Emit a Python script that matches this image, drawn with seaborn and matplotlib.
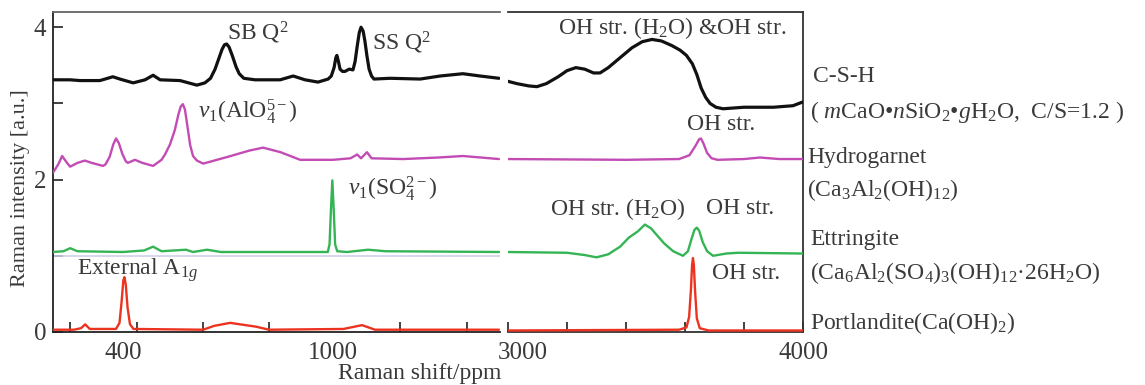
import matplotlib
matplotlib.use("Agg")
import matplotlib.pyplot as plt
import matplotlib.transforms as mtransforms
import seaborn as sns

# ---------------- data ----------------
# Left panel (low wavenumber region)
csh_low_x = [200, 249, 277, 334, 371, 391, 429, 463, 486, 506, 563, 611, 634, 650, 663, 673, 683, 690, 696, 703,
             712, 723, 732, 745, 777, 849, 886, 920, 957, 986, 995, 1003, 1008, 1011, 1015, 1020, 1027, 1034, 1046,
             1057, 1063, 1069, 1075, 1080, 1086, 1091, 1097, 1103, 1110, 1117, 1163, 1249, 1306, 1371, 1420, 1474]
csh_low_y = [3.31, 3.31, 3.30, 3.30, 3.35, 3.32, 3.27, 3.31, 3.37, 3.31, 3.30, 3.24, 3.27, 3.33, 3.45, 3.58, 3.71,
             3.77, 3.78, 3.74, 3.63, 3.48, 3.39, 3.33, 3.31, 3.31, 3.36, 3.31, 3.28, 3.32, 3.36, 3.47, 3.60, 3.63,
             3.56, 3.45, 3.42, 3.42, 3.45, 3.44, 3.55, 3.75, 3.93, 4.00, 3.95, 3.82, 3.62, 3.45, 3.36, 3.32, 3.33,
             3.32, 3.36, 3.39, 3.36, 3.33]

hg_low_x = [200, 215, 226, 240, 249, 270, 291, 310, 343, 350, 362, 372, 380, 388, 398, 408, 414, 434, 455, 486,
            510, 520, 534, 548, 558, 565, 571, 577, 584, 592, 600, 611, 629, 700, 760, 800, 850, 906, 1000, 1050,
            1069, 1080, 1097, 1110, 1200, 1300, 1371, 1474]
hg_low_y = [2.09, 2.20, 2.31, 2.22, 2.17, 2.22, 2.25, 2.22, 2.18, 2.20, 2.30, 2.46, 2.54, 2.48, 2.34, 2.24, 2.22,
            2.26, 2.22, 2.18, 2.26, 2.33, 2.46, 2.65, 2.85, 2.96, 2.99, 2.92, 2.70, 2.45, 2.31, 2.25, 2.21, 2.30,
            2.38, 2.42, 2.36, 2.26, 2.26, 2.28, 2.33, 2.28, 2.36, 2.28, 2.27, 2.29, 2.31, 2.27]

ett_low_x = [200, 230, 249, 270, 400, 460, 486, 510, 580, 600, 640, 680, 985, 990, 994, 998, 1002, 1006, 1012,
             1040, 1100, 1150, 1474]
ett_low_y = [1.05, 1.06, 1.10, 1.06, 1.05, 1.07, 1.12, 1.06, 1.08, 1.05, 1.08, 1.05, 1.05, 1.15, 1.60, 1.99, 1.60,
             1.15, 1.06, 1.05, 1.08, 1.06, 1.05]

port_low_x = [200, 260, 280, 292, 305, 380, 390, 396, 401, 404, 408, 413, 420, 430, 629, 660, 706, 780, 817,
              1030, 1083, 1120, 1474]
port_low_y = [0.03, 0.03, 0.05, 0.10, 0.04, 0.04, 0.12, 0.40, 0.68, 0.72, 0.62, 0.32, 0.10, 0.04, 0.03, 0.08,
              0.12, 0.07, 0.03, 0.04, 0.09, 0.03, 0.03]

# Right panel (OH stretching region)
csh_high_x = [3000, 3030, 3070, 3098, 3130, 3170, 3200, 3230, 3260, 3290, 3312, 3340, 3380, 3420, 3455, 3488,
              3520, 3555, 3583, 3605, 3625, 3640, 3655, 3670, 3685, 3705, 3729, 3800, 3900, 3966, 4000]
csh_high_y = [3.29, 3.26, 3.23, 3.22, 3.26, 3.35, 3.43, 3.47, 3.45, 3.40, 3.40, 3.47, 3.60, 3.73, 3.81, 3.84,
              3.82, 3.76, 3.70, 3.63, 3.52, 3.38, 3.20, 3.08, 3.00, 2.95, 2.93, 2.95, 2.95, 2.97, 3.02]

hg_high_x = [3000, 3400, 3580, 3615, 3635, 3648, 3654, 3662, 3675, 3690, 3710, 3800, 3854, 3920, 4000]
hg_high_y = [2.27, 2.26, 2.27, 2.32, 2.44, 2.53, 2.54, 2.48, 2.35, 2.28, 2.26, 2.27, 2.29, 2.27, 2.27]

ett_high_x = [3000, 3200, 3260, 3300, 3340, 3380, 3410, 3440, 3464, 3485, 3505, 3530, 3560, 3593, 3610, 3622,
              3632, 3640, 3648, 3660, 3675, 3695, 3740, 3780, 4000]
ett_high_y = [1.05, 1.04, 1.01, 0.98, 1.02, 1.12, 1.24, 1.32, 1.41, 1.36, 1.27, 1.16, 1.06, 1.00, 1.06, 1.22,
              1.34, 1.37, 1.33, 1.18, 1.06, 1.00, 1.03, 1.04, 1.03]

port_high_x = [3000, 3580, 3605, 3614, 3620, 3624, 3627, 3630, 3634, 3640, 3650, 3680, 4000]
port_high_y = [0.02, 0.03, 0.06, 0.20, 0.55, 0.88, 0.97, 0.88, 0.55, 0.18, 0.05, 0.02, 0.02]

left_tick_labels = ["400", "1000"]
left_label_pos = [400, 1000]
left_minor_ticks = [249, 440, 629, 817, 1000, 1191, 1383]
right_tick_labels = ["3000", "4000"]
right_label_pos = [3000, 4000]
right_minor_ticks = [3200, 3400, 3600, 3800]
y_ticks = [0, 1, 2, 3, 4]
y_tick_labels = ["0", "", "2", "", "4"]

sample_names = [
    "C-S-H",
    "( $m$CaO\u2022$n$SiO$_2$\u2022$g$H$_2$O,  C/S=1.2 )",
    "Hydrogarnet",
    "(Ca$_3$Al$_2$(OH)$_{12}$)",
    "Ettringite",
    "(Ca$_6$Al$_2$(SO$_4$)$_3$(OH)$_{12}$\u00b726H$_2$O)",
    "Portlandite(Ca(OH)$_2$)",
]

# ---------------- style ----------------
sns.set_theme(style="white")
plt.rcParams["font.family"] = ["Liberation Serif", "DejaVu Serif"]
plt.rcParams["mathtext.fontset"] = "custom"
plt.rcParams["mathtext.rm"] = "Liberation Serif"
plt.rcParams["mathtext.it"] = "Liberation Serif:italic"
plt.rcParams["mathtext.bf"] = "Liberation Serif:bold"

TXT = "#3a3a3a"
C_BLACK = "#111111"
C_MAG = "#c24cb4"
C_GRN = "#35b455"
C_RED = "#ec3320"
FS = 17
FS_TICK = 18

W, H = 1145, 385
fig = plt.figure(figsize=(W / 100, H / 100), dpi=100)
axL = fig.add_axes([53 / W, 1 - 332 / H, 447 / W, 320 / H])
axR = fig.add_axes([508 / W, 1 - 332 / H, 295 / W, 320 / H])

series_low = [(csh_low_x, csh_low_y, C_BLACK, 2.3), (hg_low_x, hg_low_y, C_MAG, 1.7),
              (ett_low_x, ett_low_y, C_GRN, 1.7), (port_low_x, port_low_y, C_RED, 1.7)]
series_high = [(csh_high_x, csh_high_y, C_BLACK, 2.3), (hg_high_x, hg_high_y, C_MAG, 1.7),
               (ett_high_x, ett_high_y, C_GRN, 1.7), (port_high_x, port_high_y, C_RED, 1.7)]

axL.axhline(1.0, color="#cfcfe8", lw=1.2, zorder=1)
for xs, ys, c, lw in series_low:
    sns.lineplot(x=xs, y=ys, ax=axL, color=c, lw=lw, estimator=None, sort=False, zorder=3)
for xs, ys, c, lw in series_high:
    sns.lineplot(x=xs, y=ys, ax=axR, color=c, lw=lw, estimator=None, sort=False, zorder=3)

for ax in (axL, axR):
    ax.set_ylim(0, 4.2)
    ax.set_xlabel("")
    ax.set_ylabel("")
    ax.set_facecolor("white")

axL.set_xlim(200, 1477)
axR.set_xlim(3000, 4000)

# spines
axL.spines["right"].set_visible(False)
axL.spines["top"].set_color("#666666")
axL.spines["left"].set_color("#222222")
axL.spines["bottom"].set_color("#222222")
axR.spines["left"].set_visible(False)
for s in ("top", "right", "bottom"):
    axR.spines[s].set_color("#333333")
for ax in (axL, axR):
    for s in ax.spines.values():
        s.set_linewidth(1.3)

# ticks
axL.set_yticks(y_ticks)
axL.set_yticklabels(y_tick_labels)
axL.tick_params(axis="y", direction="in", length=7, width=1.2, color="#222222", pad=5,
                labelsize=FS_TICK, labelcolor=TXT, left=True)
axL.set_xticks(left_label_pos)
axL.set_xticklabels(left_tick_labels)
axL.set_xticks(left_minor_ticks, minor=True)
axL.tick_params(axis="x", which="major", length=0, pad=7, labelsize=FS_TICK, labelcolor=TXT)
axL.tick_params(axis="x", which="minor", direction="in", length=7, width=1.2, color="#222222", bottom=True)

axR.set_yticks([])
axR.set_xticks(right_label_pos)
axR.set_xticklabels(right_tick_labels)
axR.set_xticks(right_minor_ticks, minor=True)
axR.tick_params(axis="x", which="major", direction="in", length=7, width=1.2, color="#222222",
                pad=7, labelsize=FS_TICK, labelcolor=TXT, bottom=True)
axR.tick_params(axis="x", which="minor", direction="in", length=7, width=1.2, color="#222222", bottom=True)
lab0 = axR.get_xticklabels()[0]
lab0.set_horizontalalignment("left")
lab0.set_transform(lab0.get_transform() + mtransforms.ScaledTranslation(-10 / 100, 0, fig.dpi_scale_trans))

# axis labels
axL.set_ylabel("Raman intensity [a.u.]", fontsize=16, color=TXT)
axL.yaxis.set_label_coords(-0.052, 0.45)
fig.text(420 / W, 1 - 374 / H, "Raman shift/ppm", fontsize=FS, color=TXT, ha="center", va="center")

# peak annotations
kw = dict(fontsize=FS, color=TXT, ha="left", va="center")
axL.text(697, 3.92, "SB Q$^2$", **kw)
axL.text(1111, 3.79, "SS Q$^2$", **kw)
axL.text(614, 2.90, "$v_1$(AlO$_4^{5-}$)", **kw)
axL.text(1043, 1.88, "$v_1$(SO$_4^{2-}$)", **kw)
axL.text(269, 0.81, "External A$_{1g}$", **kw)
axR.text(3170, 3.99, "OH str. (H$_2$O) &OH str.", **kw)
axR.text(3607, 2.72, "OH str.", **kw)
axR.text(3142, 1.62, "OH str. (H$_2$O)", **kw)
axR.text(3671, 1.62, "OH str.", **kw)
axR.text(3692, 0.77, "OH str.", **kw)

# sample names on the right
name_pos = [(813, 77), (810, 112), (807, 157), (807, 190), (810, 240), (810, 273), (810, 323)]
for (px, py), name in zip(name_pos, sample_names):
    fig.text(px / W, 1 - py / H, name, fontsize=FS, color=TXT, ha="left", va="center")

fig.savefig("out.png", dpi=100)
